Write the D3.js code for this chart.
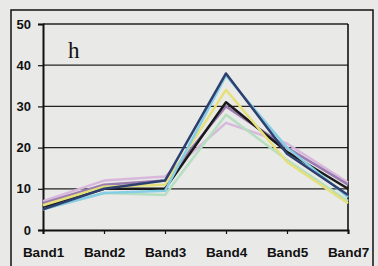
<!DOCTYPE html>
<html><head><meta charset="utf-8">
<script src="https://cdn.jsdelivr.net/npm/d3@7"></script>
<style>body{margin:0;background:#e9e9e7;}svg{display:block;}</style>
</head><body>
<svg id="c" width="378" height="266"></svg>
<script>
const categories = ["Band1","Band2","Band3","Band4","Band5","Band7"];
const yTicks = [0,10,20,30,40,50];
const seriesNames = ["lavender","lightgreen","purple","black","yellow","cyan","navy"];
const seriesColors = ["#d8b8dc","#b5dfc0","#9a7cb0","#1a1a1a","#e6e07a","#86cde6","#2c3f6e"];
const lavender   = [7, 12, 13, 26, 21, 11.5];
const lightgreen = [5, 9, 8.5, 28, 17, 7];
const purple     = [6.5, 11, 12, 30, 20, 11];
const black      = [5.5, 10, 10, 31, 19, 10];
const yellow     = [6, 10.5, 11, 34, 16.5, 6.5];
const cyan       = [5, 9, 9.5, 37.5, 20, 8];
const navy       = [5, 10, 12, 38, 18.5, 8.5];
const seriesValues = [lavender, lightgreen, purple, black, yellow, cyan, navy];

const svg = d3.select("#c");
svg.append("rect").attr("x",0).attr("y",0).attr("width",378).attr("height",266).attr("fill","#e9e9e7");
svg.append("rect").attr("x",11).attr("y",10).attr("width",362).attr("height",270)
  .attr("fill","none").attr("stroke","#111").attr("stroke-width",1.5);

const L=43, R=348, T=24, B=230;
const x = d3.scalePoint().domain(categories).range([L,R]);
const y = d3.scaleLinear().domain([0,50]).range([B,T]);

svg.append("g").selectAll("line").data(yTicks.filter(d=>d>0)).join("line")
  .attr("x1",L).attr("x2",R).attr("y1",d=>y(d)).attr("y2",d=>y(d))
  .attr("stroke","#222").attr("stroke-width",1.3);
svg.append("line").attr("x1",R).attr("x2",R).attr("y1",T).attr("y2",B).attr("stroke","#111").attr("stroke-width",1.6);

const ya = svg.append("g").attr("transform",`translate(${L},0)`)
  .call(d3.axisLeft(y).tickValues(yTicks).tickSize(5).tickPadding(0).tickFormat(d3.format("d")));
ya.select(".domain").attr("stroke","#111").attr("stroke-width",2);
ya.selectAll(".tick line").attr("stroke","#111").attr("stroke-width",1.2);
ya.selectAll("text").attr("x",-12).attr("text-anchor","end")
  .attr("font-family","Liberation Sans, Arial, sans-serif").attr("font-weight","bold").attr("font-size",13).attr("fill","#111");

const xa = svg.append("g").attr("transform",`translate(0,${B})`)
  .call(d3.axisBottom(x).tickSize(4).tickPadding(13));
xa.select(".domain").attr("stroke","#111").attr("stroke-width",2);
xa.selectAll(".tick line").attr("stroke","#111").attr("stroke-width",1.2);
xa.selectAll("text").attr("font-family","Liberation Sans, Arial, sans-serif").attr("font-weight","bold").attr("font-size",13.5).attr("fill","#111");

const line = d3.line().x((d,i)=>x(categories[i])).y(d=>y(d));
svg.append("g").selectAll("path").data(seriesValues).join("path")
  .attr("d",d=>line(d)).attr("fill","none")
  .attr("stroke",(d,i)=>seriesColors[i]).attr("stroke-width",2.5).attr("stroke-linejoin","round");

svg.append("text").attr("x",68).attr("y",58).text("h")
  .attr("font-family","Liberation Serif, Times New Roman, serif").attr("font-size",23).attr("fill","#111");
</script>
</body></html>
